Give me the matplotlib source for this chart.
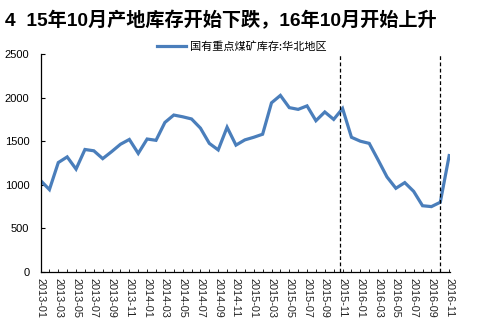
import numpy as np
import matplotlib
matplotlib.use("Agg")
import matplotlib.pyplot as plt

plt.rcParams['font.family'] = ['Liberation Sans', 'Noto Sans CJK SC', 'DejaVu Sans']

# =========================================================
# DATA
# =========================================================

title = "4  15年10月产地库存开始下跌，16年10月开始上升"
series_name = "国有重点煤矿库存:华北地区"

months = [f"{y}-{m:02d}" for y in (2013, 2014, 2015, 2016) for m in range(1, 13)][:47]

stock = [1050, 945, 1255, 1320, 1180, 1405, 1390, 1300, 1380, 1465,
         1520, 1360, 1525, 1510, 1715, 1800, 1780, 1755, 1650, 1475,
         1400, 1660, 1455, 1515, 1545, 1580, 1940, 2025, 1885, 1865,
         1905, 1735, 1835, 1750, 1875, 1545, 1500, 1475, 1285, 1090,
         960, 1025, 925, 760, 750, 800, 1335]

# dashed markers: 2015-11 and 2016-10
marker_pos = [33.7, 45.0]

# =========================================================
# PLOT
# =========================================================

fig = plt.figure(figsize=(4.79, 3.28), dpi=100)
ax = fig.add_axes([0.0846, 0.1707, 0.855, 0.6647])

x = np.arange(len(stock))
line, = ax.plot(x, stock, color='#4A7EBB', linewidth=2.3, solid_joinstyle='miter',
                label=series_name)

for xp in marker_pos:
    ax.axvline(xp, color='black', linestyle=(0, (3, 2)), linewidth=0.9)

ax.set_xlim(0, 46.1)
ax.set_ylim(0, 2500)
ax.set_yticks(np.arange(0, 2501, 500))
ax.set_xticks(x[::2])
ax.set_xticklabels(months[::2], rotation=-90, fontsize=7.8, color='#222222')
ax.set_xticks(x, minor=True)
ax.tick_params(axis='y', direction='in', length=3, width=0.8, labelsize=8, pad=8)
ax.tick_params(axis='x', which='both', direction='in', length=2.5, width=0.6, pad=4)

for s in ('top', 'right'):
    ax.spines[s].set_visible(False)
for s in ('left', 'bottom'):
    ax.spines[s].set_linewidth(0.9)

fig.text(0.01, 0.939, title, fontsize=13.8, fontweight='bold',
         family=['Liberation Sans', 'Noto Sans CJK SC'], va='center', ha='left')

fig.legend(handles=[line], loc='center', bbox_to_anchor=(0.505, 0.857),
           frameon=False, prop={'family': ['Noto Sans CJK SC'], 'size': 8},
           handlelength=2.6, handletextpad=0.3, borderaxespad=0)

fig.savefig("out.png", dpi=100)
